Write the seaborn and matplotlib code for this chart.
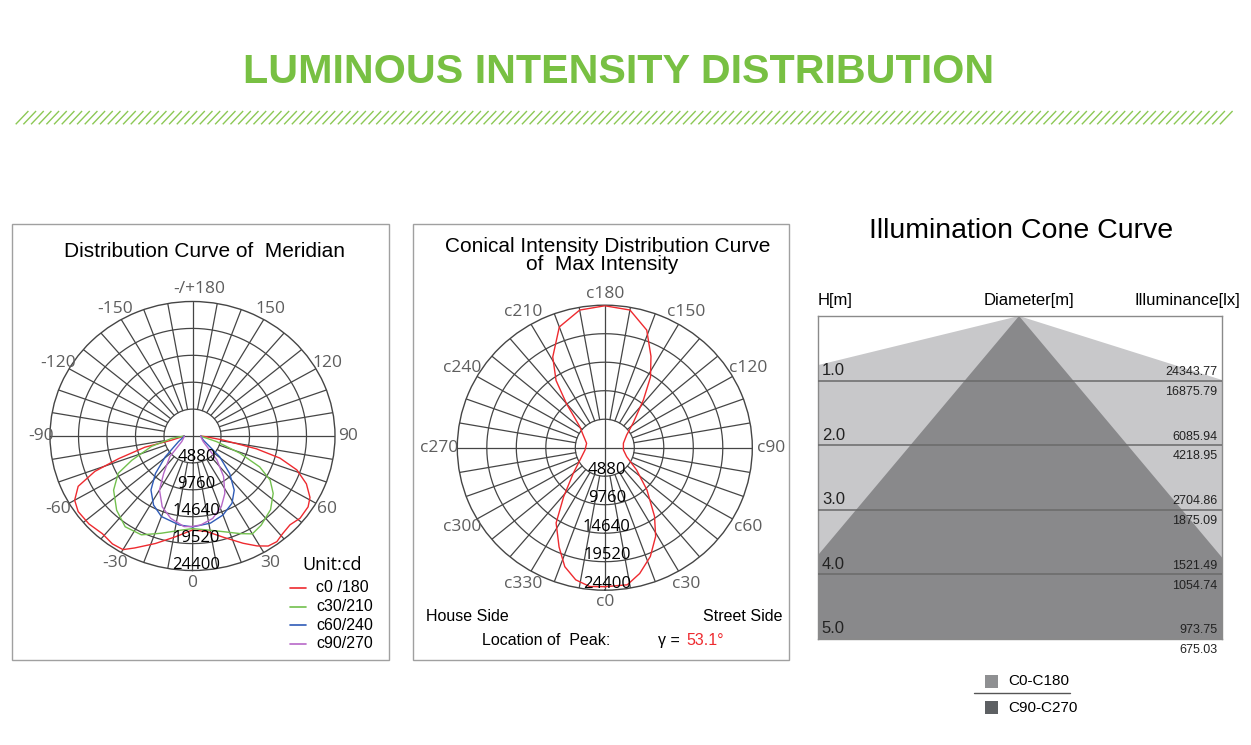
import numpy as np
import matplotlib
matplotlib.use("Agg")
import matplotlib.pyplot as plt
import seaborn as sns
from matplotlib.patches import Rectangle
from matplotlib.lines import Line2D
from matplotlib.collections import LineCollection
from matplotlib.transforms import offset_copy

# ---------------- data ----------------
ring_values = [4880, 9760, 14640, 19520, 24400]
ring_labels = ["4880", "9760", "14640", "19520", "24400"]

meridian_label_deg = [-150, -120, -90, -60, -30, 0, 30, 60, 90, 120, 150, 180]
meridian_labels = ["-150", "-120", "-90", "-60", "-30", "0", "30", "60", "90", "120", "150", "-/+180"]

c0_angles = [-90, -84, -78, -76, -72, -69, -65, -60, -55, -48, -41, -35, -30, -26, -18, -9, 0,
             8, 16, 24, 29, 33, 37, 41, 46, 51, 57, 61, 66, 71, 75, 78, 82, 86, 90]
c0_values = [1400, 2000, 3700, 8400, 13300, 17900, 21600, 23300, 23900, 23850, 23500, 23900, 23800,
             22600, 20500, 18500, 17050, 17500, 19100, 21300, 22800, 23800, 24000, 23500, 23200,
             23700, 23600, 23000, 21350, 18900, 15500, 11200, 5300, 2500, 1400]

c30_angles = [-90, -83, -75, -67, -62, -54, -44, -35, -26, -17, -6, 0,
              8, 17, 25, 30, 36, 45, 53, 59, 64, 69, 76, 83, 90]
c30_values = [1400, 3600, 7250, 11300, 14400, 16700, 18700, 20100, 19950, 18450, 17150, 16800,
              17200, 18150, 19550, 20500, 20000, 18900, 17300, 15500, 12800, 8700, 4300, 2000, 1400]

c60_angles = [-90, -80, -67, -51, -43, -36, -28, -20, -8, 0, 11, 20, 29, 36, 43, 51, 68, 80, 90]
c60_values = [1400, 1700, 2600, 6000, 9300, 12100, 14200, 15550, 16300, 16500, 16100, 15250,
              13950, 12150, 9350, 6000, 2000, 1600, 1400]

c90_angles = [-90, -75, -61, -46, -36, -30, -22, -14, -5, 0, 5, 13, 21, 28, 36, 44, 61, 75, 90]
c90_values = [1400, 1600, 2100, 5400, 8400, 11300, 13850, 15400, 16500, 16400, 16200, 15350,
              13750, 11800, 9050, 6000, 2100, 1600, 1400]

meridian_series = ["c0 /180", "c30/210", "c60/240", "c90/270"]
meridian_colors = ["#ee2a2f", "#72c04d", "#2f5bb7", "#b768c8"]

conical_angles = [0, 9, 15, 22, 29, 35, 44, 54, 67, 83, 104, 121, 132, 142, 148, 154, 161, 170, 180,
                  190, 200, 209, 215, 220, 229, 239, 256, 277, 292, 310, 321, 328, 336, 342, 348, 354, 360]
conical_values = [23800, 23770, 22300, 20100, 17350, 14340, 10030, 6500, 3930, 3100, 3170, 4220, 6300,
                  10370, 14270, 17420, 21300, 23940, 24300, 23930, 22000, 17760, 14060, 9880, 5470,
                  4170, 3100, 3300, 4130, 6800, 10830, 15200, 18600, 21420, 23130, 23900, 23800]
conical_label_deg = [0, 30, 60, 90, 120, 150, 180, 210, 240, 270, 300, 330]
conical_labels = ["c0", "c30", "c60", "c90", "c120", "c150", "c180", "c210", "c240", "c270", "c300", "c330"]
peak_gamma = "53.1°"

cone_heights = [1.0, 2.0, 3.0, 4.0, 5.0]
cone_height_labels = ["1.0", "2.0", "3.0", "4.0", "5.0"]
illum_upper = ["24343.77", "6085.94", "2704.86", "1521.49", "973.75"]
illum_lower = ["16875.79", "4218.95", "1875.09", "1054.74", "675.03"]
cone_c0_spread = [-4.09, 3.17]    # half-diameter per metre of height (left, right)
cone_c90_spread = [-0.84, 0.84]
cone_names = ["C0-C180", "C90-C270"]

# ---------------- figure ----------------
sns.set_theme(style="white")
plt.rcParams["font.family"] = ["Liberation Sans", "DejaVu Sans"]

W, H = 1251, 745
fig = plt.figure(figsize=(W / 100, H / 100), dpi=100, facecolor="white")


def fx(px):
    return px / W


def fy(py):
    return 1 - py / H


GREEN = "#78c043"
GRID = "#454545"
LABEL_GRAY = "#5e5e5e"
LABEL_FONT = ["Open Sans", "DejaVu Sans"]

# title
fig.text(fx(619), fy(72), "LUMINOUS INTENSITY DISTRIBUTION", ha="center", va="center",
         fontsize=29.7, fontweight="bold", color=GREEN,
         family=["Liberation Sans", "DejaVu Sans"])
xs = np.arange(15.7, 1223, 7.67)
segs = [[(fx(x), fy(124.3)), (fx(x + 12.7), fy(111))] for x in xs]
fig.add_artist(LineCollection(segs, colors="#8cc855", linewidths=1.0, transform=fig.transFigure))

# panel boxes
for x0, x1 in [(12, 389), (413, 789)]:
    fig.add_artist(Rectangle((fx(x0), fy(660)), (x1 - x0) / W, 436 / H, fill=False,
                             edgecolor="#a0a0a0", linewidth=1, transform=fig.transFigure))


def setup_polar(ax, rmax):
    ax.set_theta_zero_location("S")
    ax.set_theta_direction(1)
    ax.set_ylim(0, rmax)
    ax.set_xticks([])
    ax.set_yticks([])
    ax.grid(False)
    ax.set_aspect("auto")
    ax.set_facecolor("none")
    ax.spines["polar"].set_color(GRID)
    ax.spines["polar"].set_linewidth(1)
    th = np.linspace(0, 2 * np.pi, 361)
    for rv in ring_values[:-1]:
        ax.plot(th, np.full_like(th, rv), color=GRID, lw=0.9, zorder=1)
    for a in range(0, 360, 10):
        r0 = 0 if a % 90 == 0 else ring_values[0]
        ax.plot([np.deg2rad(a)] * 2, [r0, rmax], color=GRID, lw=0.9, zorder=1)


rmax = ring_values[-1]

# ---------- left: meridian ----------
ax1 = fig.add_axes([fx(50), fy(570.5), 285 / W, 269 / H], projection="polar")
setup_polar(ax1, rmax)
for angs, vals, col in zip([c0_angles, c30_angles, c60_angles, c90_angles],
                           [c0_values, c30_values, c60_values, c90_values], meridian_colors):
    sns.lineplot(x=np.deg2rad(angs), y=vals, ax=ax1, color=col, linewidth=1.0,
                 sort=False, estimator=None, zorder=3)
ax1.set_xlabel("")
ax1.set_ylabel("")
for a, s in zip(meridian_label_deg, meridian_labels):
    k = 1.09 if a not in (-90,) else 1.06
    dx = 7 if a == 180 else 0
    trl = offset_copy(ax1.transData, fig=fig, x=dx, y=0, units="dots")
    ax1.text(np.deg2rad(a), rmax * k, s, transform=trl, ha="center", va="center", fontsize=12.5,
             color=LABEL_GRAY, family=LABEL_FONT, clip_on=False)
tr1 = offset_copy(ax1.transData, fig=fig, x=4, y=5.5, units="dots")
for rv, s in zip(ring_values, ring_labels):
    ax1.text(0, rv, s, transform=tr1, ha="center", va="center", fontsize=12,
             color="black", family=LABEL_FONT, zorder=4)

fig.text(fx(204.3), fy(251.7), "Distribution Curve of  Meridian", ha="center", va="center",
         fontsize=15, color="black")
fig.text(fx(302.7), fy(565), "Unit:cd", ha="left", va="center", fontsize=13, color="black",
         family=LABEL_FONT)
for i, (name, col) in enumerate(zip(meridian_series, meridian_colors)):
    yy = 588 + i * 18.5
    fig.add_artist(Line2D([fx(290), fx(306)], [fy(yy), fy(yy)], color=col, lw=1.2,
                          transform=fig.transFigure))
    fig.text(fx(316), fy(yy), name, ha="left", va="center", fontsize=11.5, color="black")

# ---------- middle: conical ----------
ax2 = fig.add_axes([fx(457.3), fy(590.2), 295 / W, 285 / H], projection="polar")
setup_polar(ax2, rmax)
sns.lineplot(x=np.deg2rad(conical_angles), y=conical_values, ax=ax2, color="#ee2a2f",
             linewidth=1.0, sort=False, estimator=None, zorder=3)
ax2.set_xlabel("")
ax2.set_ylabel("")
for a, s in zip(conical_label_deg, conical_labels):
    k = 1.08 + 0.045 * abs(np.sin(np.deg2rad(a)))
    ax2.text(np.deg2rad(a), rmax * k, s, ha="center", va="center", fontsize=12.5,
             color=LABEL_GRAY, family=LABEL_FONT, clip_on=False)
tr2 = offset_copy(ax2.transData, fig=fig, x=2, y=6.5, units="dots")
for rv, s in zip(ring_values, ring_labels):
    ax2.text(0, rv, s, transform=tr2, ha="center", va="center", fontsize=12,
             color="black", family=LABEL_FONT, zorder=4)

fig.text(fx(607.5), fy(246), "Conical Intensity Distribution Curve", ha="center", va="center",
         fontsize=15, color="black")
fig.text(fx(601.7), fy(264.3), "of  Max Intensity", ha="center", va="center",
         fontsize=15, color="black")
fig.text(fx(426), fy(616.7), "House Side", ha="left", va="center", fontsize=11.5, color="black")
fig.text(fx(782.3), fy(616.7), "Street Side", ha="right", va="center", fontsize=11.5, color="black")
fig.text(fx(481.7), fy(640.7), "Location of  Peak:", ha="left", va="center", fontsize=11.5,
         color="black")
fig.text(fx(658.3), fy(640.7), "γ = ", ha="left", va="center", fontsize=11.5, color="black")
fig.text(fx(686), fy(640.7), peak_gamma, ha="left", va="center", fontsize=11.5, color="#ee2a2f")

# ---------- right: cone ----------
fig.text(fx(1021), fy(231), "Illumination Cone Curve", ha="center", va="center",
         fontsize=20.5, color="black")
ax3 = fig.add_axes([fx(818), fy(639), 404 / W, 323 / H])
ax3.set_xlim(-3.11, 3.14)
ax3.set_ylim(cone_heights[-1], 0)
hmax = cone_heights[-1]
ax3.fill([0, cone_c0_spread[0] * hmax, cone_c0_spread[1] * hmax],
         [0, hmax, hmax], color="#c8c8ca", lw=0, zorder=1)
ax3.fill([0, cone_c90_spread[0] * hmax, cone_c90_spread[1] * hmax],
         [0, hmax, hmax], color="#89898b", lw=0, zorder=2)
for h in cone_heights[:-1]:
    ax3.axhline(h, color="#6a6a6a", lw=1.1, zorder=3)
ax3.set_xticks([])
ax3.set_yticks([])
for sp in ax3.spines.values():
    sp.set_color("#8a8a8a")
    sp.set_linewidth(1)
for h, hl, up, lo in zip(cone_heights, cone_height_labels, illum_upper, illum_lower):
    ax3.text(-3.05, h - 0.04, hl, ha="left", va="bottom", fontsize=12, color="#222222", zorder=4)
    ax3.text(3.07, h - 0.04, up, ha="right", va="bottom", fontsize=9, color="#222222", zorder=4)
    ax3.text(3.07, h + 0.08, lo, ha="right", va="top", fontsize=9, color="#222222", zorder=4,
             clip_on=False)

fig.text(fx(818), fy(300), "H[m]", ha="left", va="center", fontsize=12, color="black")
fig.text(fx(1029), fy(300), "Diameter[m]", ha="center", va="center", fontsize=12, color="black")
fig.text(fx(1240.7), fy(300), "Illuminance[lx]", ha="right", va="center", fontsize=12,
         color="black")

for i, (name, col) in enumerate(zip(cone_names, ["#8f9092", "#5d6063"])):
    yy = 681 + i * 26.7
    fig.add_artist(Rectangle((fx(985), fy(yy + 6.5)), 13 / W, 13 / H, facecolor=col,
                             edgecolor="none", transform=fig.transFigure))
    fig.text(fx(1008.3), fy(yy), name, ha="left", va="center", fontsize=11, color="black")
fig.add_artist(Line2D([fx(974), fx(1070)], [fy(693.3), fy(693.3)], color="#555555", lw=1,
                      transform=fig.transFigure))

fig.savefig("out.png", dpi=100, facecolor="white")
